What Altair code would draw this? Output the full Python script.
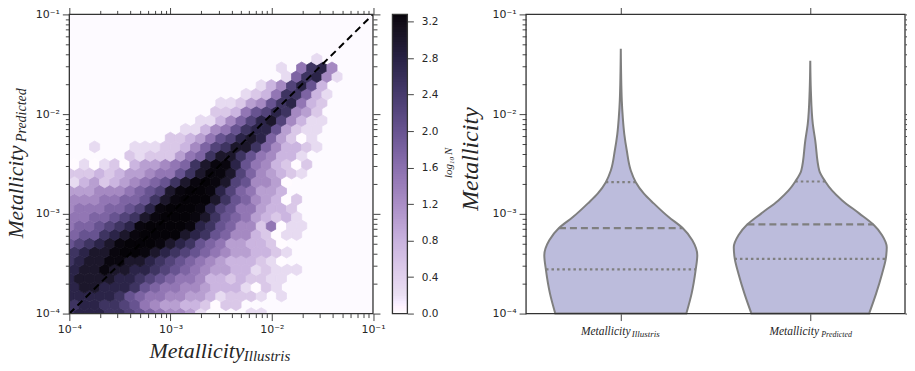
import altair as alt
import pandas as pd

# ---------- hexbin cells: one string per row (bottom to top), one hex digit per column; '.' = empty
HEX_ROWS = [
    "abbbaa98765541....11",
    "abbaa986544332022",
    "bbbbba87665544312221.1",
    "bccbbba87665543331021",
    "bccccbba98766533232211",
    "bccdccbba98765443312111",
    "abccddccba987654333210",
    "abccdeedcba98765443321",
    "89abcdefedcba876443320",
    "788abcdffeecba875532011",
    "67789abdeffedba875526011",
    "667789acdeeedca87643231",
    "56667789bdeeedb98664332",
    "55566778acdeeeca8754302",
    "4445556789cdeedb976443",
    "1342345678acdedc985540",
    "222323445668acddc9754321",
    "010120344567acddb8653202",
    "......21222467acca865331",
    "..1...111223579acca753321",
    "..........2234689bcb74201",
    "...........113568abb84211",
    ".............113579bc95311",
    "..............223689ba542",
    "...............112458ab632",
    ".................1236aa731",
    "...................1359b83",
    ".....................17ab51",
    ".....................1.6ab5",
    "........................1",
]
LOG_MIN, LOG_STEP_X, LOG_STEP_Y = -4.0, 0.0998, 0.088
COLOR_STOPS = [0, 0.2, 0.4, 0.8, 1.2, 1.6, 2.0, 2.4, 2.8, 3.28]
COLOR_RANGE = ["#ffffff", "#eadff3", "#e0d0ec", "#c8b1de", "#a98dc5", "#8a6fae",
               "#675390", "#463a6c", "#272143", "#050308"]
CBAR_TICKS = [0.0, 0.4, 0.8, 1.2, 1.6, 2.0, 2.4, 2.8, 3.2]

# ---------- violins
ILL_M = [-4.0, -3.8, -3.567, -3.415, -3.265, -3.142, -3.032, -2.895, -2.795, -2.682, -2.565, -2.365, -2.2, -2.035, -1.865, -1.345]
ILL_W = [65.7, 71, 75, 76.7, 71.7, 62, 48, 33, 23, 15, 10, 6, 3.5, 2, 1, 0]
PRE_M = [-4.0, -3.8, -3.6, -3.452, -3.335, -3.215, -3.105, -2.995, -2.865, -2.765, -2.675, -2.565, -2.265, -2.095, -1.765, -1.465]
PRE_W = [59, 66, 72, 75.7, 76.7, 72, 63, 49, 32, 21.7, 15, 9, 5, 2.5, 0.6, 0]
VIOLIN_UNIT = 190.0
QUARTILES = {"ill": [0.00208, 0.00072, 0.000277], "pre": [0.00211, 0.000785, 0.000353]}
QUART_W = {"ill": [15, 62, 75], "pre": [15, 63, 76]}

MINOR = [m * 10.0 ** k for k in (-4, -3, -2) for m in (1, 2, 3, 4, 5, 6, 7, 8, 9)]
LOG_TICKS = [float(f"{v:.6g}") for v in MINOR] + [0.1]
IS_MAJOR = "datum.value==0.0001||datum.value==0.001||datum.value==0.01||datum.value==0.1"
LABELS = "datum.value==0.0001?'10⁻⁴':datum.value==0.001?'10⁻³':datum.value==0.01?'10⁻²':datum.value==0.1?'10⁻¹':''"
TICK_COLOR = "#444444"
FRAME = "#333333"
TEXT = "#262626"
DOMAIN = [1e-4, 1e-1]
logscale = alt.Scale(type="log", domain=DOMAIN, nice=False)
ticksize = {"condition": {"test": IS_MAJOR, "value": 7}, "value": 4}


def log_axis(orient, labels=True):
    kw = dict(orient=orient, values=LOG_TICKS, grid=False, domain=False, title=None, tickColor=TICK_COLOR,
              tickSize=ticksize, tickWidth=1, labels=labels)
    if labels:
        kw.update(labelExpr=LABELS, labelFont="DejaVu Sans", labelFontSize=11, labelColor=TEXT,
                  labelOverlap=False, labelPadding=3, labelFlush=False, labelBound=False)
    return alt.Axis(**kw)


def text(s, x, y, size, angle=0):
    return (alt.Chart(pd.DataFrame({"t": [s]}))
            .mark_text(font="Liberation Serif", fontStyle="italic", fontSize=size, align="left",
                       baseline="alphabetic", angle=angle, color=TEXT)
            .encode(x=alt.value(x), y=alt.value(y), text="t:N"))


def frame(w, h):
    return (alt.Chart(pd.DataFrame({"a": [0]}))
            .mark_rect(fillOpacity=0, stroke=FRAME, strokeWidth=1.3)
            .encode(x=alt.value(0), x2=alt.value(w), y=alt.value(0), y2=alt.value(h)))


# ---------- hexbin
cells = []
for r, row in enumerate(HEX_ROWS):
    for c, ch in enumerate(row):
        if ch == ".":
            continue
        cells.append({
            "x": 10 ** (LOG_MIN + (c + (0.5 if r % 2 else 0.0)) * LOG_STEP_X),
            "y": 10 ** (LOG_MIN + r * LOG_STEP_Y),
            "v": int(ch, 16) * 0.25,
        })
cells = pd.DataFrame(cells)
color_scale = alt.Scale(domain=COLOR_STOPS, range=COLOR_RANGE, clamp=True)
HEX = "M0,-1L0.866,-0.5L0.866,0.5L0,1L-0.866,0.5L-0.866,-0.5Z"
hex_layer = (alt.Chart(cells)
             .mark_point(shape=HEX, size=137, filled=True, clip=True, opacity=1, strokeWidth=0.8)
             .encode(x=alt.X("x:Q", scale=logscale, axis=log_axis("bottom")),
                     y=alt.Y("y:Q", scale=logscale, axis=log_axis("left")),
                     fill=alt.Fill("v:Q", scale=color_scale, legend=None),
                     stroke=alt.Stroke("v:Q", scale=color_scale, legend=None)))
diag = (alt.Chart(pd.DataFrame({"x": DOMAIN, "y": DOMAIN}))
        .mark_line(color="black", strokeWidth=2, strokeDash=[7, 4.5], clip=True)
        .encode(x=alt.X("x:Q", scale=logscale, axis=None), y=alt.Y("y:Q", scale=logscale, axis=None)))
dummy = alt.Chart(pd.DataFrame({"x": [1e-3], "y": [1e-3]})).mark_point(opacity=0)
hex_top = dummy.encode(x=alt.X("x:Q", scale=logscale, axis=log_axis("top", False)),
                       y=alt.Y("y:Q", scale=logscale, axis=log_axis("right", False)))
PW, PH = 304.5, 300
panel_a = alt.layer(
    hex_layer, diag, hex_top, frame(PW, PH),
    text("Metallicity", 80.5, 345, 22), text("Illustris", 175, 347.5, 15),
    text("Metallicity", -46.5, 224.5, 21.5, 270), text("Predicted", -43.5, 128, 14, 270),
).resolve_scale(x="independent", y="independent").properties(
    width=PW, height=PH, view=alt.ViewBackground(fill="#fdfaff", stroke=None))

# ---------- colour bar
N = 120
levels = pd.DataFrame({"lo": [i * 3.28 / N for i in range(N)], "hi": [(i + 1.4) * 3.28 / N for i in range(N)]})
levels["hi"] = levels["hi"].clip(upper=3.28)
cbar = (alt.Chart(levels).mark_rect()
        .encode(x=alt.value(0), x2=alt.value(15),
                y=alt.Y("lo:Q", scale=alt.Scale(domain=[0, 3.28], nice=False),
                        axis=alt.Axis(orient="right", values=CBAR_TICKS, format=".1f", grid=False, domain=False,
                                      title=None, tickColor=TICK_COLOR, tickSize=6, labelFont="DejaVu Sans",
                                      labelFontSize=10.5, labelColor=TEXT, labelPadding=8, labelOverlap=False)),
                y2="hi:Q",
                fill=alt.Fill("lo:Q", scale=color_scale, legend=None)))
panel_b = alt.layer(cbar, frame(15, PH), text("log", 60, 164, 11, 270), text("10", 62, 150, 7, 270),
                    text("N", 60, 141, 11, 270)).properties(width=15, height=PH,
                                                            view=alt.ViewBackground(stroke=None))

# ---------- spacer
panel_c = (alt.Chart(pd.DataFrame({"a": [0]})).mark_point(opacity=0).encode(x=alt.value(0), y=alt.value(0))
           .properties(width=81, height=PH, view=alt.ViewBackground(stroke=None)))

# ---------- violins
xs = alt.Scale(domain=[-0.5, 1.5], nice=False, zero=False)
x_axis = alt.Axis(orient="bottom", values=[0, 1], labels=False, grid=False, domain=False, title=None,
                  tickColor=TICK_COLOR, tickSize=7)


def violin(pos, ms, ws, axes):
    df = pd.DataFrame({"m": [10 ** m for m in ms],
                       "lo": [pos - w / VIOLIN_UNIT for w in ws],
                       "hi": [pos + w / VIOLIN_UNIT for w in ws]})
    return (alt.Chart(df)
            .mark_area(orient="horizontal", interpolate="monotone", fill="#bcbcdc", stroke="#7f7f7f", strokeWidth=2)
            .encode(x=alt.X("lo:Q", scale=xs, axis=x_axis if axes else None),
                    x2="hi:Q",
                    y=alt.Y("m:Q", scale=logscale, axis=log_axis("left") if axes else None)))


q_rows = []
for name, pos in (("ill", 0), ("pre", 1)):
    for i, (q, w) in enumerate(zip(QUARTILES[name], QUART_W[name])):
        q_rows.append({"m": q, "lo": pos - w / VIOLIN_UNIT, "hi": pos + w / VIOLIN_UNIT, "k": i})
q_df = pd.DataFrame(q_rows)


def qrule(df, dash):
    return (alt.Chart(df).mark_rule(color="#7f7f7f", strokeWidth=2.2, strokeDash=dash)
            .encode(x=alt.X("lo:Q", scale=xs, axis=None), x2="hi:Q", y=alt.Y("m:Q", scale=logscale, axis=None)))


viol_top = dummy.encode(
    x=alt.X("t:Q", scale=xs, axis=alt.Axis(orient="top", values=[0, 1], labels=False, grid=False, domain=False,
                                           title=None, tickColor=TICK_COLOR, tickSize=7)),
    y=alt.Y("y:Q", scale=logscale, axis=log_axis("right", False))
).transform_calculate(t="0")
VW = 380
panel_d = alt.layer(
    violin(0, ILL_M, ILL_W, True), violin(1, PRE_M, PRE_W, False),
    qrule(q_df[q_df.k != 1], [2.5, 3]), qrule(q_df[q_df.k == 1], [7, 4]), viol_top, frame(VW, PH),
    text("Metallicity", -48, 197, 24, 270),
    text("Metallicity", 55, 321, 11.5), text("Illustris", 106, 323, 9),
    text("Metallicity", 244, 321, 11.5), text("Predicted", 296, 323, 8),
).resolve_scale(x="independent", y="independent").properties(
    width=VW, height=PH, view=alt.ViewBackground(fill="white", stroke=None))

chart = alt.hconcat(panel_a, panel_b, panel_c, panel_d, spacing=19, bounds="flush").properties(
    autosize=alt.AutoSizeParams(type="none"),
    padding={"left": 61.5, "top": 5.5, "right": 840, "bottom": 355})
chart.save("out.html", embed_options={"renderer": "svg", "actions": False})
